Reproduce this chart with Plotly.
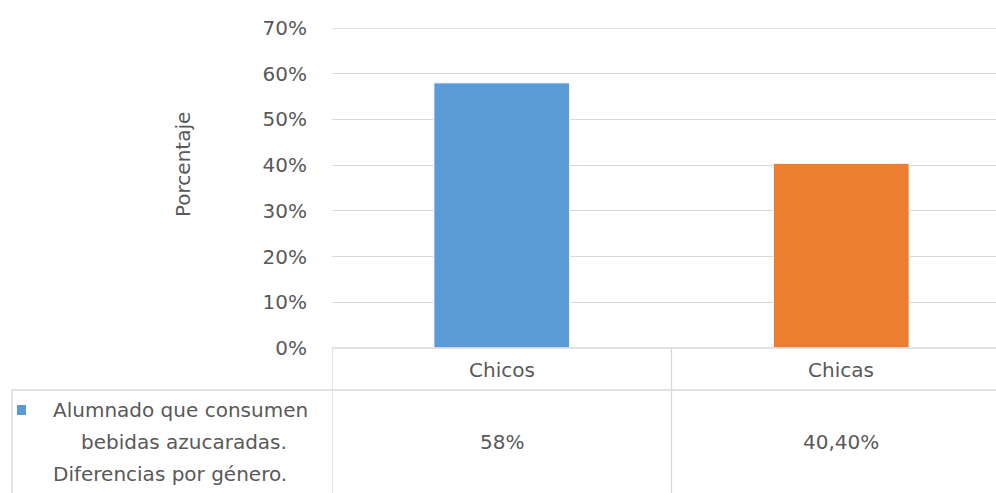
import plotly.graph_objects as go

categories = ["Chicos", "Chicas"]
values = [0.58, 0.404]
table_labels = ["58%", "40,40%"]
series_name_lines = ["Alumnado que consumen", "bebidas azucaradas.", "Diferencias por género."]
bar_colors = ["#5B9BD5", "#ED7D31"]
y_ticks = [0, 0.1, 0.2, 0.3, 0.4, 0.5, 0.6, 0.7]
y_tick_labels = ["0%", "10%", "20%", "30%", "40%", "50%", "60%", "70%"]

W, H = 996, 493
L, T, B = 332, 28, 348  # plot area pixel bounds
R = W
TXT = "#595959"
GRID = "#D9D9D9"
FONT = "DejaVu Sans"
FS = 20

def px(x):
    return (x - L) / (R - L)

def py(y):
    return (B - y) / (B - T)

fig = go.Figure()
fig.add_trace(go.Bar(
    x=list(range(len(categories))), y=values,
    marker=dict(color=bar_colors, line=dict(color="white", width=1)),
    width=0.4, showlegend=False, hoverinfo="skip",
))

cat_w = 339.5
right_range = -0.5 + (R - L) / cat_w

fig.update_layout(
    width=W, height=H,
    margin=dict(l=L, r=W - R, t=T, b=H - B, pad=0),
    paper_bgcolor="white", plot_bgcolor="white",
    font=dict(family=FONT, size=FS, color=TXT),
    xaxis=dict(range=[-0.5, right_range], showticklabels=False, showgrid=False,
               zeroline=False, showline=False, ticks=""),
    yaxis=dict(range=[0, 0.7], tickvals=y_ticks, ticktext=y_tick_labels,
               showgrid=True, gridcolor=GRID, gridwidth=1.3, zeroline=False,
               showline=False, ticks="", ticklabelstandoff=24,
               tickfont=dict(family=FONT, size=FS, color=TXT)),
)

shapes = []
line = dict(color=GRID, width=1.3)
# top gridline (70%)
shapes.append(dict(type="line", xref="paper", yref="y", x0=0, x1=1, y0=y_ticks[-1], y1=y_ticks[-1], line=line))
# table horizontal lines
shapes.append(dict(type="line", xref="paper", yref="paper", x0=px(332), x1=px(W), y0=py(348), y1=py(348), line=line))
shapes.append(dict(type="line", xref="paper", yref="paper", x0=px(12), x1=px(W), y0=py(390), y1=py(390), line=line))
# vertical lines at category boundaries
for xb in [-0.5, 0.5]:
    shapes.append(dict(type="line", xref="x", yref="paper", x0=xb, x1=xb, y0=py(348), y1=py(H), line=line))
shapes.append(dict(type="line", xref="paper", yref="paper", x0=px(12), x1=px(12), y0=py(390), y1=py(H), line=line))
# legend key
shapes.append(dict(type="rect", xref="paper", yref="paper", x0=px(17), x1=px(26), y0=py(415), y1=py(405),
                   fillcolor=bar_colors[0], line=dict(width=0)))
fig.update_layout(shapes=shapes)

ann = []
ann.append(dict(text="Porcentaje", xref="paper", yref="paper", x=px(183), y=py(165),
                xanchor="center", yanchor="middle",
                textangle=-90, showarrow=False, font=dict(size=FS, color=TXT, family=FONT)))
for i, c in enumerate(categories):
    ann.append(dict(text=c, xref="x", yref="paper", x=i, y=py(370), showarrow=False,
                    xanchor="center", yanchor="middle",
                    font=dict(size=FS, color=TXT, family=FONT)))
    ann.append(dict(text=table_labels[i], xref="x", yref="paper", x=i, y=py(442), showarrow=False,
                    xanchor="center", yanchor="middle",
                    font=dict(size=FS, color=TXT, family=FONT)))
line_ys = [410, 442, 474]
line_xs = [180, 184, 170]
for txt, yy, xx in zip(series_name_lines, line_ys, line_xs):
    ann.append(dict(text=txt, xref="paper", yref="paper", x=px(xx), y=py(yy), showarrow=False,
                    xanchor="center", yanchor="middle",
                    font=dict(size=FS, color=TXT, family=FONT)))
fig.update_layout(annotations=ann)

fig.write_html("out.html", config={"displayModeBar": False},
               post_script="document.body.style.margin='0';document.body.style.padding='0';")
